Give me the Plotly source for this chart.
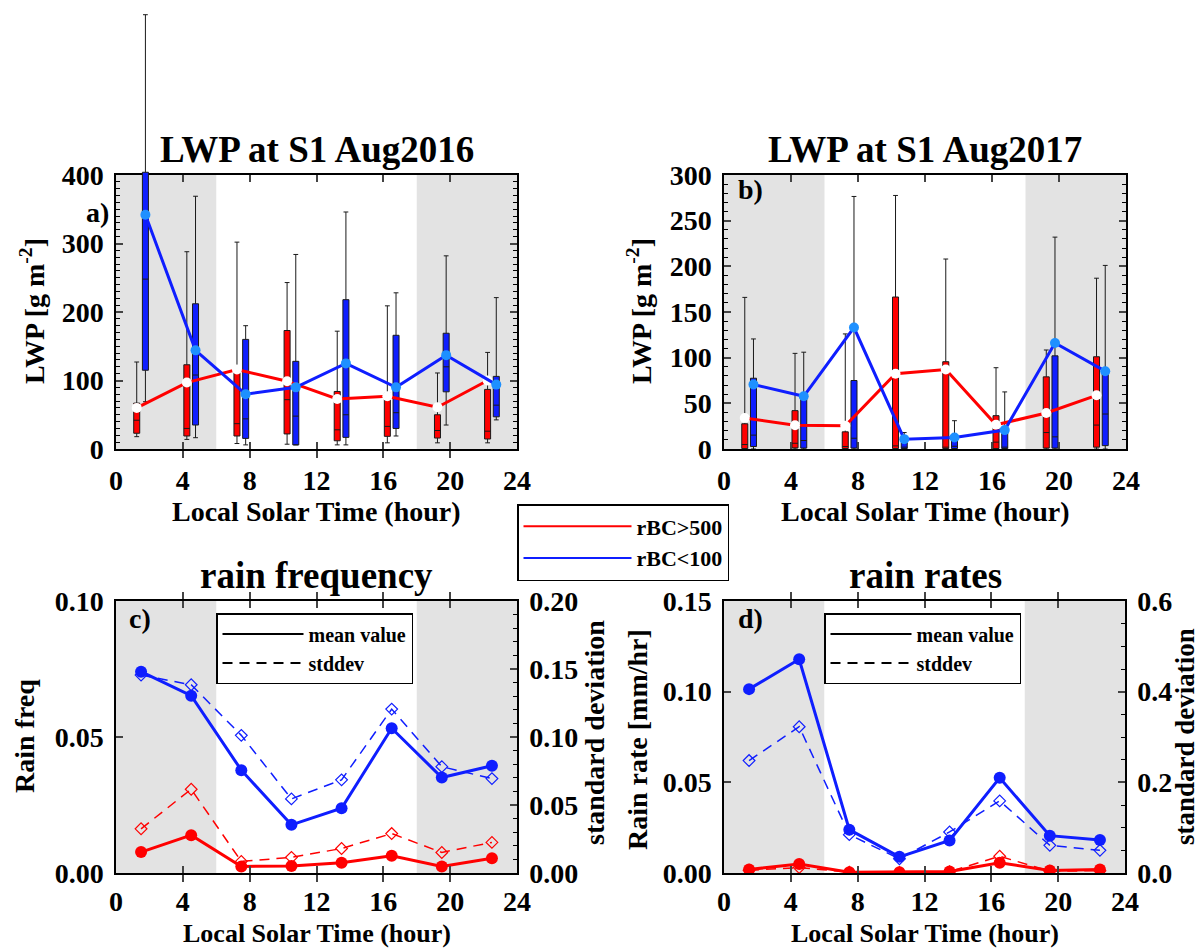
import plotly.graph_objects as go

W, H = 1201, 950
FF = "Liberation Serif"

# ---------------------------------------------------------------- data
hours = [1.5, 4.5, 7.5, 10.5, 13.5, 16.5, 19.5, 22.5]
hour_ticks = [0, 4, 8, 12, 16, 20, 24]

# LWP box statistics, Aug 2016 (g m-2)
hi16_mean = [60, 97, 116, 99, 73, 77, 61, 100]
hi16_q1 = [23, 19, 19, 22, 12, 18.5, 16, 14.6]
hi16_med = [42, 30, 37, 72, 28, 33, 27, 26]
hi16_q3 = [67, 123, 116, 173, 84, 81.5, 50, 87]
hi16_lo = [18, 14, 8, 7, 6, 9, 9, 9]
hi16_hi = [127, 288, 302, 243, 172, 209, 111, 141]

lo16_mean = [342, 144, 80, 90, 125, 90, 137, 94]
lo16_q1 = [115, 35, 15.5, 6, 17, 30, 83.5, 47]
lo16_med = [248, 108, 44, 48, 50, 53, 120, 64]
lo16_q3 = [404, 212, 160, 128, 218, 166, 169, 106]
lo16_lo = [69, 16.5, 6, 6, 6, 19, 35, 42.5]
lo16_hi = [634, 369, 180, 284, 346, 228, 282, 221]

# LWP box statistics, Aug 2017 (g m-2)
hi17_mean = [34, 26, 25.4, 82.4, 87, 26.5, 39.4, 58.8]
hi17_q1 = [0.5, 1.2, 0.5, 0.5, 0.5, 0.5, 1, 2]
hi17_med = [4.9, 6.3, 2.7, 3.4, 2, 7.5, 18, 26.2]
hi17_q3 = [27.6, 42, 18.8, 166.4, 95.6, 36.5, 79, 101]
hi17_lo = [0, 0, 0, 0, 0, 0, 0, 0]
hi17_hi = [166, 104.7, 126, 277.6, 208, 89, 108.4, 187]

lo17_mean = [70.6, 57.7, 133, 10.8, 12.6, 20.7, 116, 85.2]
lo17_q1 = [2.7, 1, 1, 0.5, 0.5, 0.5, 1, 3.7]
lo17_med = [15.2, 9.3, 11.8, 2, 3, 2, 13.3, 38.3]
lo17_q3 = [77.5, 58, 75, 7, 13.3, 22, 102, 84.5]
lo17_lo = [0, 0, 0, 0, 0, 0, 0, 0]
lo17_hi = [120.5, 106, 276.5, 18, 31, 62.5, 232, 201]

# rain frequency: mean (left axis) and standard deviation (right axis)
freq_hi_mean = [0.0077, 0.0139, 0.0024, 0.0026, 0.0038, 0.0063, 0.0024, 0.0054]
freq_hi_std = [0.0325, 0.0616, 0.0085, 0.0115, 0.0180, 0.0290, 0.0151, 0.0225]
freq_lo_mean = [0.0740, 0.0652, 0.0378, 0.0177, 0.0238, 0.0532, 0.0351, 0.0394]
freq_lo_std = [0.1455, 0.1384, 0.1012, 0.0545, 0.0685, 0.1205, 0.0782, 0.0694]

# rain rate (mm/hr): mean (left axis) and standard deviation (right axis)
rate_hi_mean = [0.0019, 0.0050, 0.0004, 0.0004, 0.0008, 0.0057, 0.0014, 0.0019]
rate_hi_std = [0.006, 0.012, 0.002, 0.001, 0.003, 0.037, 0.004, 0.005]
rate_lo_mean = [0.1014, 0.1179, 0.0239, 0.0089, 0.0179, 0.0525, 0.0206, 0.0182]
rate_lo_std = [0.248, 0.3227, 0.0846, 0.0312, 0.0905, 0.159, 0.061, 0.050]

# ---------------------------------------------------------------- styles
RED = "#ff0000"
BLUE = "#0f1eff"
LIGHTBLUE = "#1e90ff"
GRAY = "#e3e3e3"
OFF = 0.26          # half-spacing between the paired boxes in each bin
BOXW = 0.36


def fx(px):
    return px / W


def fy(py):
    return 1 - py / H


x_hi = [h - OFF for h in hours]
x_lo = [h + OFF for h in hours]

# panel frames in pixels (left, right, top, bottom)
PA = (116, 517, 175, 449)
PB = (724, 1126, 175, 449)
PC = (116, 517, 601, 873)
PD = (724, 1125, 601, 873)

TICKFONT = dict(family=FF, size=28, color="black", weight="bold")


def xaxis(panel, anchor, standoff=6):
    return dict(domain=[fx(panel[0]), fx(panel[1])], range=[0, 24],
                tickvals=hour_ticks, ticks="inside", ticklen=7, tickwidth=1.5,
                showline=True, linewidth=1.5, linecolor="black",
                mirror="allticks", showgrid=False, zeroline=False,
                tickfont=TICKFONT, anchor=anchor, ticklabelstandoff=standoff,
                automargin=False)


def yaxis(panel, anchor, rng, dtick, minor, fmt=None, mirror="allticks",
          side="left", overlaying=None):
    d = dict(domain=[fy(panel[3]), fy(panel[2])], range=rng, dtick=dtick,
             tick0=0, ticks="inside", ticklen=7, tickwidth=1.5,
             showline=True, linewidth=1.5, linecolor="black", mirror=mirror,
             showgrid=False, zeroline=False, tickfont=TICKFONT, anchor=anchor,
             side=side, ticklabelstandoff=5, automargin=False)
    if minor:
        d["minor"] = dict(dtick=minor, ticks="inside", ticklen=4,
                          tickwidth=1, tickcolor="black", showgrid=False)
    if fmt:
        d["tickformat"] = fmt
    if overlaying:
        d["overlaying"] = overlaying
    return d


fig = go.Figure()

# empty trace so the panel-a frame axes are laid out
fig.add_trace(go.Scatter(x=[None], y=[None], xaxis="x", yaxis="y",
                         showlegend=False, hoverinfo="skip"))


def add_boxes(xs, q1, med, q3, lo, hi, color, xa, ya):
    fig.add_trace(go.Box(
        x=xs, q1=q1, median=med, q3=q3, lowerfence=lo, upperfence=hi,
        width=BOXW, whiskerwidth=0.8, fillcolor=color,
        line=dict(color="#1a1a1a", width=1), boxpoints=False,
        xaxis=xa, yaxis=ya, showlegend=False, hoverinfo="skip"))


def add_means(xs, ys, color, mcolor, xa, ya):
    fig.add_trace(go.Scatter(
        x=xs, y=ys, mode="lines+markers", xaxis=xa, yaxis=ya,
        line=dict(color=color, width=3),
        marker=dict(color=mcolor, size=10, line=dict(width=0)),
        showlegend=False, hoverinfo="skip"))


# panel a: drawn on an invisible axis that shares the LWP scale but
# extends to the top of the page, so the tallest whisker is not clipped
add_boxes(x_hi, hi16_q1, hi16_med, hi16_q3, hi16_lo, hi16_hi, RED, "x", "y5")
add_boxes(x_lo, lo16_q1, lo16_med, lo16_q3, lo16_lo, lo16_hi, BLUE, "x", "y5")
add_means(x_hi, hi16_mean, RED, "white", "x", "y5")
add_means(x_lo, lo16_mean, BLUE, LIGHTBLUE, "x", "y5")

# panel b
add_boxes(x_hi, hi17_q1, hi17_med, hi17_q3, hi17_lo, hi17_hi, RED, "x2", "y2")
add_boxes(x_lo, lo17_q1, lo17_med, lo17_q3, lo17_lo, lo17_hi, BLUE, "x2", "y2")
add_means(x_hi, hi17_mean, RED, "white", "x2", "y2")
add_means(x_lo, lo17_mean, BLUE, LIGHTBLUE, "x2", "y2")


def add_rain(mean, std, color, xa, ya_mean, ya_std):
    fig.add_trace(go.Scatter(
        x=hours, y=std, mode="lines+markers", xaxis=xa, yaxis=ya_std,
        line=dict(color=color, width=1.5, dash="10px,7px"),
        marker=dict(symbol="diamond-open", size=9, color=color,
                    line=dict(width=1.2, color=color)),
        showlegend=False, hoverinfo="skip"))
    fig.add_trace(go.Scatter(
        x=hours, y=mean, mode="lines+markers", xaxis=xa, yaxis=ya_mean,
        line=dict(color=color, width=3),
        marker=dict(symbol="circle", size=12, color=color),
        showlegend=False, hoverinfo="skip"))


add_rain(freq_hi_mean, freq_hi_std, RED, "x3", "y3", "y4")
add_rain(freq_lo_mean, freq_lo_std, BLUE, "x3", "y3", "y4")
add_rain(rate_hi_mean, rate_hi_std, RED, "x4", "y6", "y7")
add_rain(rate_lo_mean, rate_lo_std, BLUE, "x4", "y6", "y7")

# legend entries
for name, color in (("rBC>500", RED), ("rBC<100", BLUE)):
    fig.add_trace(go.Scatter(x=[None], y=[None], mode="lines", name=name,
                             line=dict(color=color, width=2),
                             xaxis="x2", yaxis="y2", legend="legend"))
for lg, xa, ya in (("legend2", "x3", "y3"), ("legend3", "x4", "y6")):
    fig.add_trace(go.Scatter(x=[None], y=[None], mode="lines",
                             name="mean value", legend=lg,
                             line=dict(color="black", width=2),
                             xaxis=xa, yaxis=ya))
    fig.add_trace(go.Scatter(x=[None], y=[None], mode="lines",
                             name="stddev", legend=lg,
                             line=dict(color="black", width=2,
                                       dash="10px,7px"),
                             xaxis=xa, yaxis=ya))

# night-time shading (00-06 and 18-24 LST)
shapes = []
for xa, ya in (("x", "y domain"), ("x2", "y2 domain"),
               ("x3", "y3 domain"), ("x4", "y6 domain")):
    for a, b in ((0, 6), (18, 24)):
        shapes.append(dict(type="rect", xref=xa, yref=ya, x0=a, x1=b,
                           y0=0, y1=1, fillcolor=GRAY,
                           line=dict(width=0), layer="below"))


def note(text, x, y, size, angle=0):
    return dict(text=text, x=fx(x), y=fy(y), xref="paper", yref="paper",
                xanchor="center", yanchor="middle", showarrow=False,
                textangle=angle,
                font=dict(family=FF, size=size, color="black",
                          weight="bold"))


annotations = [
    note("LWP at S1 Aug2016", 316.5, 149, 37),
    note("LWP at S1 Aug2017", 925, 149, 37),
    note("rain frequency", 316.5, 575, 37),
    note("rain rates", 925, 575, 37),
    note("Local Solar Time (hour)", 316.5, 511, 28),
    note("Local Solar Time (hour)", 925, 511, 28),
    note("Local Solar Time (hour)", 316.5, 933, 26),
    note("Local Solar Time (hour)", 925, 933, 26),
    note("LWP [g m<sup>-2</sup>]", 33, 311, 28, -90),
    note("LWP [g m<sup>-2</sup>]", 640, 311, 28, -90),
    note("Rain freq", 24, 736, 28, -90),
    note("standard deviation", 594, 733, 28, -90),
    note("Rain rate [mm/hr]", 637, 740, 28, -90),
    note("standard deviation", 1185, 737, 27, -90),
    note("a)", 97, 212, 28),
    note("b)", 750, 190, 28),
    note("c)", 140, 618, 28),
    note("d)", 750, 618, 28),
]

YEXT = 400 * PA[3] / (PA[3] - PA[2])   # LWP value at the top edge of the page

LEGEND_BASE = dict(xanchor="left", yanchor="top", bgcolor="white",
                   bordercolor="black", borderwidth=1.5, tracegroupgap=0)

fig.update_layout(
    template="none",
    width=W, height=H, margin=dict(l=0, r=0, t=0, b=0, autoexpand=False),
    paper_bgcolor="white", plot_bgcolor="rgba(0,0,0,0)",
    boxmode="overlay",
    xaxis=xaxis(PA, "y"),
    yaxis=yaxis(PA, "x", [0, 400], 100, 10),
    yaxis5=dict(domain=[fy(PA[3]), 1], range=[0, YEXT], anchor="x",
                visible=False, automargin=False),
    xaxis2=xaxis(PB, "y2"),
    yaxis2=yaxis(PB, "x2", [0, 300], 50, 10),
    xaxis3=xaxis(PC, "y3", standoff=3),
    yaxis3=yaxis(PC, "x3", [0, 0.1], 0.05, None, ".2f", mirror=False),
    yaxis4=yaxis(PC, "x3", [0, 0.2], 0.05, 0.01, ".2f", mirror=False,
                 side="right", overlaying="y3"),
    xaxis4=xaxis(PD, "y6", standoff=3),
    yaxis6=yaxis(PD, "x4", [0, 0.15], 0.05, None, ".2f", mirror=False),
    yaxis7=yaxis(PD, "x4", [0, 0.6], 0.2, 0.05, ".1f", mirror=False,
                 side="right", overlaying="y6"),
    legend=dict(LEGEND_BASE, x=fx(517), y=fy(504), itemwidth=108,
                font=dict(family=FF, size=22, color="black", weight="bold")),
    legend2=dict(LEGEND_BASE, x=fx(216), y=fy(613), itemwidth=81,
                 font=dict(family=FF, size=20, color="black", weight="bold")),
    legend3=dict(LEGEND_BASE, x=fx(824), y=fy(613), itemwidth=81,
                 font=dict(family=FF, size=20, color="black", weight="bold")),
    shapes=shapes,
    annotations=annotations,
)

fig.write_html("out.html")
